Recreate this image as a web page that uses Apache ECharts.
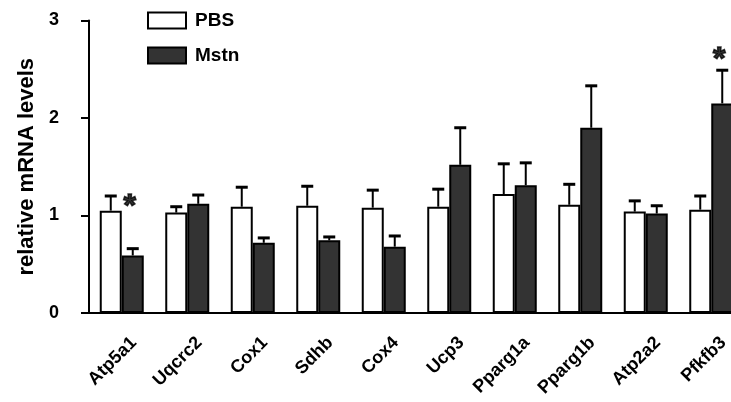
<!DOCTYPE html>
<html>
<head>
<meta charset="utf-8">
<script src="https://cdn.jsdelivr.net/npm/echarts@6/dist/echarts.min.js"></script>
<style>
  html, body { margin: 0; padding: 0; background: #fff; }
  #box { width: 731px; height: 402px; }
</style>
</head>
<body>
<div id="box"></div>
<script>
// 基因名称
var genes = ['Atp5a1', 'Uqcrc2', 'Cox1', 'Sdhb', 'Cox4', 'Ucp3', 'Pparg1a', 'Pparg1b', 'Atp2a2', 'Pfkfb3']
// PBS 组
var pbsMean = [1.05, 1.03, 1.09, 1.10, 1.08, 1.09, 1.22, 1.11, 1.04, 1.06]
var pbsErr = [0.15, 0.06, 0.20, 0.20, 0.18, 0.18, 0.31, 0.21, 0.11, 0.14]
// Mstn 组
var mstnMean = [0.59, 1.12, 0.72, 0.745, 0.68, 1.52, 1.31, 1.90, 1.02, 2.15]
var mstnErr = [0.07, 0.09, 0.05, 0.035, 0.11, 0.38, 0.23, 0.43, 0.08, 0.34]
// 显著性星号 [类别, 高度]
var stars = [[0, 1.17], [9, 2.68]]
var yTicks = [0, 1, 2, 3]

var font = 'Liberation Sans, Arial, sans-serif'
var barW = 22

// 误差线（只画向上的一半）
function errSeries(name, mean, err, offset) {
  return {
    type: 'custom',
    name: name + ' err',
    z: 3,
    data: mean.map(function (v, i) { return [i, v, err[i]] }),
    renderItem: function (params, api) {
      var base = api.coord([api.value(0), api.value(1)])
      var top = api.coord([api.value(0), api.value(1) + api.value(2)])
      var x = base[0] + offset
      return {
        type: 'group',
        children: [
          { type: 'line', shape: { x1: x, y1: base[1], x2: x, y2: top[1] }, style: { stroke: '#000', lineWidth: 2 } },
          { type: 'line', shape: { x1: x - 6, y1: top[1], x2: x + 6, y2: top[1] }, style: { stroke: '#000', lineWidth: 3 } }
        ]
      }
    }
  }
}

var myChart = echarts.init(document.getElementById('box'))
myChart.setOption({
  animation: false,
  textStyle: { fontFamily: font },
  grid: { left: 89, width: 655, top: 20.5, bottom: 89, containLabel: false, outerBoundsMode: 'none' },
  legend: {
    orient: 'vertical',
    left: 147,
    top: 11,
    padding: 0,
    itemWidth: 38,
    itemHeight: 16,
    itemGap: 16,
    icon: 'rect',
    data: ['PBS', 'Mstn'],
    textStyle: { fontFamily: font, fontWeight: 'bold', fontSize: 19, color: '#000', padding: [0, 0, 0, 4] }
  },
  xAxis: {
    type: 'category',
    data: genes,
    axisLine: { lineStyle: { color: '#000', width: 2 } },
    axisTick: { alignWithLabel: true, length: 7, lineStyle: { color: '#000', width: 2 } },
    axisLabel: {
      rotate: 45,
      margin: 15,
      interval: 0,
      verticalAlign: 'top',
      lineHeight: 34,
      fontFamily: font,
      fontWeight: 'bold',
      fontSize: 18,
      color: '#000'
    }
  },
  yAxis: {
    type: 'value',
    min: yTicks[0],
    max: yTicks[yTicks.length - 1],
    interval: 1,
    name: 'relative mRNA levels',
    nameLocation: 'middle',
    nameGap: 51,
    nameTextStyle: { fontFamily: font, fontWeight: 'bold', fontSize: 22, color: '#000' },
    splitLine: { show: false },
    axisLine: { show: true, lineStyle: { color: '#000', width: 2 } },
    axisTick: { show: true, length: 8, lineStyle: { color: '#000', width: 2 } },
    axisLabel: { margin: 30, fontFamily: font, fontWeight: 'bold', fontSize: 18, color: '#000' }
  },
  series: [
    {
      name: 'PBS',
      type: 'bar',
      data: pbsMean,
      barWidth: barW,
      barGap: '0%',
      itemStyle: { color: '#fff', borderColor: '#000', borderWidth: 2 }
    },
    {
      name: 'Mstn',
      type: 'bar',
      data: mstnMean,
      barWidth: barW,
      itemStyle: { color: '#333333', borderColor: '#000', borderWidth: 2 }
    },
    errSeries('PBS', pbsMean, pbsErr, -barW / 2),
    errSeries('Mstn', mstnMean, mstnErr, barW / 2),
    {
      type: 'scatter',
      name: 'sig',
      symbolSize: 0,
      data: stars,
      label: {
        show: true,
        position: 'inside',
        offset: [8, 8],
        formatter: '*',
        fontFamily: font,
        fontWeight: 'bold',
        fontSize: 32,
        color: '#000',
        textBorderColor: '#000',
        textBorderWidth: 1.5
      }
    }
  ]
})
</script>
</body>
</html>
